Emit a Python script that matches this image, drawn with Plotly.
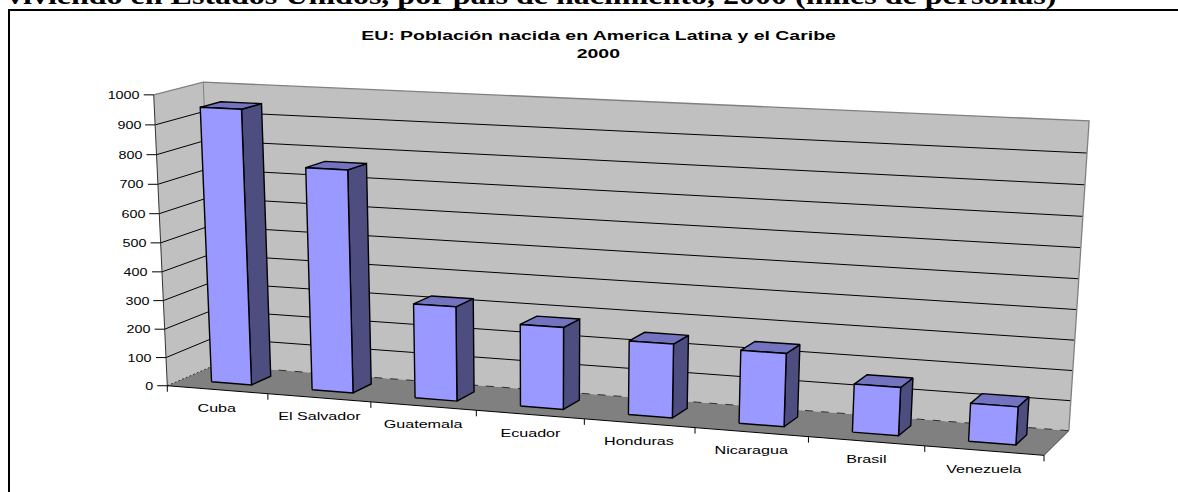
import json
import numpy as np
import plotly.graph_objects as go

# ---- data ----
categories = ["Cuba", "El Salvador", "Guatemala", "Ecuador", "Honduras", "Nicaragua", "Brasil", "Venezuela"]
values = [950, 765, 325, 280, 250, 245, 160, 125]
value_ticks = [0, 100, 200, 300, 400, 500, 600, 700, 800, 900, 1000]
chart_title = "EU: Población nacida en America Latina y el Caribe"
chart_year = "2000"
heading = "viviendo en Estados Unidos, por país de nacimiento, 2000 (miles de personas)"

# ---- camera: the 3-D box (category, value, depth) seen on the page ----
box_corners = [(0, 0, 0), (8, 0, 0), (8, 0, 1), (0, 0, 1), (0, 1000, 1), (8, 1000, 1), (0, 1000, 0)]
page_corners = [(169, 385), (1044, 456), (1069, 430), (213, 366), (205, 82), (1089, 121), (152, 95)]

rows = []
for (c, v, d), (u, w) in zip(box_corners, page_corners):
    p = [c / 8, v / 1000, d, 1]
    u, w = u / 1000, w / 1000
    rows.append(p + [0, 0, 0, 0] + [-u * q for q in p])
    rows.append([0, 0, 0, 0] + p + [-w * q for q in p])
camera = np.linalg.svd(np.array(rows))[2][-1].reshape(3, 4)


def project(c, v, d):
    a, b, s = camera @ np.array([c / 8, v / 1000, d, 1])
    return a / s * 1000, b / s * 1000


def path(points):
    xy = [project(*p) for p in points]
    return [q[0] for q in xy], [q[1] for q in xy]


def polygons(list_of_faces):
    xs, ys = [], []
    for face in list_of_faces:
        a, b = path(face + [face[0]])
        xs += a + [None]
        ys += b + [None]
    return xs, ys


WALL, FLOOR, FRONT, SIDE, TOP = "#C0C0C0", "#808080", "#9999FF", "#4D4D80", "#7373BF"
BAR_W, D0, D1 = 0.2, 0.3, 0.72

fig = go.Figure()


def poly(faces, fill, line="rgba(0,0,0,0)", width=1.0):
    x, y = polygons(faces)
    fig.add_trace(go.Scatter(x=x, y=y, mode="lines", fill="toself", fillcolor=fill,
                             line=dict(color=line, width=width), hoverinfo="skip", showlegend=False))


def stroke(points, color="#000000", width=1.0, dash="solid"):
    x, y = path(points)
    fig.add_trace(go.Scatter(x=x, y=y, mode="lines", line=dict(color=color, width=width, dash=dash),
                             hoverinfo="skip", showlegend=False))


poly([[(0, 0, 0), (0, 0, 1), (0, 1000, 1), (0, 1000, 0)],
      [(0, 0, 1), (8, 0, 1), (8, 1000, 1), (0, 1000, 1)]], WALL)
poly([[(0, 0, 0), (8, 0, 0), (8, 0, 1), (0, 0, 1)]], FLOOR)

for v in value_ticks[1:-1]:
    stroke([(0, v, 0), (0, v, 1), (8, v, 1)], "#000000", 1.0)
stroke([(0, 1000, 0), (0, 1000, 1), (8, 1000, 1), (8, 0, 1)], "#808080", 1.3)
stroke([(0, 0, 1), (0, 1000, 1)], "#808080", 1.0)
stroke([(0, 0, 1), (8, 0, 1)], "#303030", 1.0, "8px,8px")
stroke([(0, 0, 0), (0, 0, 1)], "#303030", 1.0, "2px,2px")
stroke([(0, 0, 0), (0, 1000, 0)], "#333333", 1.0)
stroke([(0, 0, 0), (8, 0, 0)], "#000000", 1.0)
stroke([(8, 0, 0), (8, 0, 1)], "#404040", 1.0)

sides, tops, fronts = [], [], []
for i, h in enumerate(values):
    a, b = i + 0.5 - BAR_W, i + 0.5 + BAR_W
    fronts.append([(a, 0, D0), (b, 0, D0), (b, h, D0), (a, h, D0)])
    sides.append([(b, 0, D0), (b, 0, D1), (b, h, D1), (b, h, D0)])
    tops.append([(a, h, D0), (b, h, D0), (b, h, D1), (a, h, D1)])
poly(sides, SIDE, "#000000", 1.4)
poly(tops, TOP, "#000000", 1.4)
poly(fronts, FRONT, "#000000", 1.4)

# tick marks
tx, ty = [], []
for v in value_ticks:
    u, w = project(0, v, 0)
    tx += [u - 10, u, None]
    ty += [w, w, None]
for i in range(len(categories) + 1):
    u, w = project(i, 0, 0)
    tx += [u, u, None]
    ty += [w, w + 6, None]
fig.add_trace(go.Scatter(x=tx, y=ty, mode="lines", line=dict(color="#000000", width=1),
                         hoverinfo="skip", showlegend=False))

notes, stretch, anchor = [], [], []
SANS, SERIF = "Liberation Sans", "Liberation Serif"
for v in value_ticks:
    u, w = project(0, v, 0)
    notes.append(dict(x=u - 14.5, y=w, text=str(v), xanchor="right", yanchor="middle",
                      font=dict(size=11, family=SANS, color="#000000")))
    stretch.append(1.3)
    anchor.append(-1)
for i, name in enumerate(categories):
    u, w = project(i + 0.5, 0, 0)
    notes.append(dict(x=u, y=w + 18, text=name, xanchor="center", yanchor="middle",
                      font=dict(size=11.5, family=SANS, color="#000000")))
    stretch.append(1.4)
    anchor.append(0)
for y, txt in ((36, chart_title), (54, chart_year)):
    notes.append(dict(x=598, y=y, text=txt, xanchor="center", yanchor="middle",
                      font=dict(size=12, family=SANS, color="#000000", weight="bold")))
    stretch.append(1.62)
    anchor.append(0)
notes.append(dict(x=7, y=10, text=heading, xanchor="left", yanchor="bottom",
                  font=dict(size=25, family=SERIF, color="#000000", weight="bold")))
stretch.append(1.28)
anchor.append(1)
for n in notes:
    n.update(showarrow=False, xref="x", yref="y", borderpad=0, borderwidth=0)

fig.update_layout(
    width=1178, height=492, margin=dict(l=0, r=0, t=0, b=0),
    paper_bgcolor="#FFFFFF", plot_bgcolor="#FFFFFF", showlegend=False,
    xaxis=dict(range=[0, 1178], visible=False, fixedrange=True),
    yaxis=dict(range=[492, 0], visible=False, fixedrange=True),
    annotations=notes,
    shapes=[dict(type="line", xref="x", yref="y", x0=9, x1=9, y0=10, y1=492, line=dict(color="#000000", width=2)),
            dict(type="line", xref="x", yref="y", x0=8, x1=1178, y0=10, y1=10, line=dict(color="#000000", width=2))],
)
# The reference's lettering is horizontally stretched: widen each real text element to match,
# keeping its left edge, centre or right edge where the annotation put it.
post = """
document.body.style.margin='0';document.body.style.overflow='hidden';
var S=%s,A=%s;
document.querySelectorAll('.annotation').forEach(function(g){
  var t=g.querySelector('text.annotation-text'),i=+g.getAttribute('data-index'),k=S[i];
  if(t&&k){var w=t.getComputedTextLength();
    t.setAttribute('textLength',w*k);t.setAttribute('lengthAdjust','spacingAndGlyphs');
    t.setAttribute('x',parseFloat(t.getAttribute('x')||0)+A[i]*(k-1)*w/2);}
});
""" % (json.dumps(stretch), json.dumps(anchor))
fig.write_html("out.html", config=dict(displayModeBar=False), post_script=post)
